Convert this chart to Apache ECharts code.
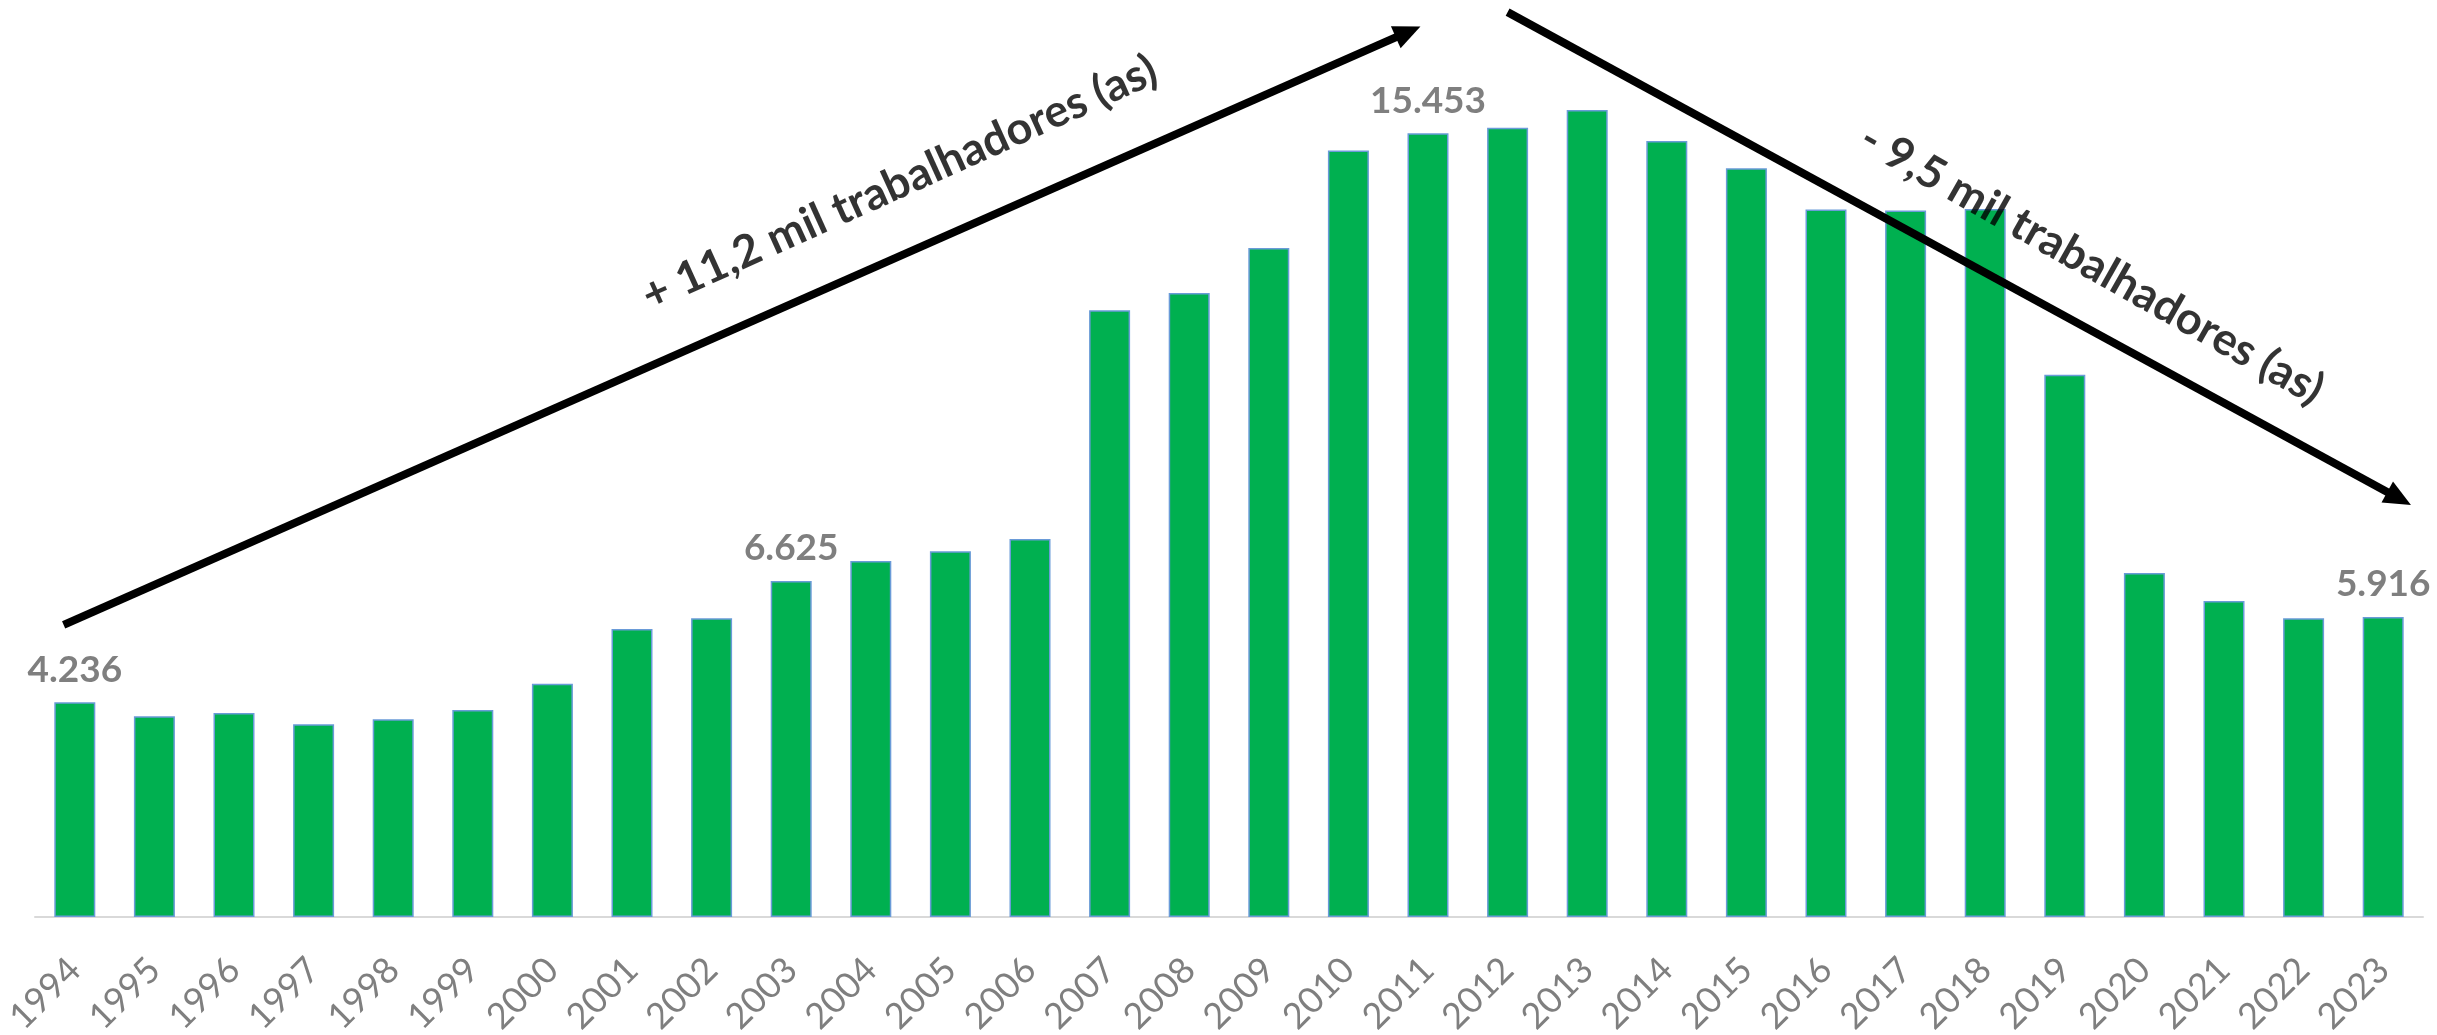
<!DOCTYPE html>
<html>
<head>
<meta charset="utf-8">
<script src="https://cdn.jsdelivr.net/npm/echarts@6/dist/echarts.min.js"></script>
<style>
html,body{margin:0;padding:0;background:#fff;}
#chart{width:2437px;height:1035px;}
</style>
</head>
<body>
<div id="chart"></div>
<script>
// ---- data ----
const years = ['1994','1995','1996','1997','1998','1999','2000','2001','2002','2003','2004','2005','2006','2007','2008','2009','2010','2011','2012','2013','2014','2015','2016','2017','2018','2019','2020','2021','2022','2023'];
const workers = [4236, 3960, 4020, 3800, 3900, 4080, 4600, 5680, 5890, 6625, 7020, 7210, 7450, 11960, 12300, 13190, 15110, 15453, 15560, 15910, 15300, 14760, 13950, 13930, 13960, 10690, 6780, 6230, 5890, 5916];
const labelledYears = ['1994', '2003', '2011', '2023'];
// annotation arrows: [start, end] in (category position, value)
const upArrow = [[-0.14, 5760], [16.75, 17450]];
const downArrow = [[18.0, 17840], [29.2, 8250]];
const upText = '+ 11,2 mil trabalhadores (as)';
const downText = '- 9,5 mil trabalhadores (as)';
const upTextPos = [10.36, 14470];
const downTextPos = [25.34, 12870];

function fmt(v){ return String(v).replace(/\B(?=(\d{3})+(?!\d))/g, '.'); }

const chart = echarts.init(document.getElementById('chart'));
const FONT = 'Lato';
const GRAY = '#7f7f7f';

const barData = workers.map((v, i) => ({
  value: v,
  label: { show: labelledYears.indexOf(years[i]) >= 0 }
}));

function arrowLine(a){
  return [{ coord: a[0], symbol: 'none' }, { coord: a[1], symbol: 'triangle' }];
}

chart.setOption({
  animation: false,
  backgroundColor: '#ffffff',
  grid: { left: 35, right: 14, top: 4, bottom: 118, containLabel: false, outerBoundsMode: 'none' },
  xAxis: [{
    type: 'category',
    data: years,
    axisLine: { show: true, lineStyle: { color: '#d9d9d9', width: 2 } },
    axisTick: { show: false },
    axisLabel: {
      rotate: 45, margin: 47, color: GRAY, fontFamily: FONT, fontSize: 36, interval: 0
    }
  }, {
    type: 'value', min: -0.5, max: 29.5, show: false, splitLine: { show: false }
  }],
  yAxis: { type: 'value', min: 0, max: 18000, show: false, splitLine: { show: false } },
  series: [{
    type: 'bar',
    data: barData,
    barWidth: 41,
    itemStyle: { color: '#00b050', borderColor: '#6a9bd8', borderWidth: 1.5 },
    label: {
      position: 'top', distance: 14, color: GRAY, fontFamily: FONT, fontWeight: 'bold', fontSize: 37,
      formatter: p => fmt(p.value)
    },
    z: 2
  }, {
    type: 'scatter',
    xAxisIndex: 1, yAxisIndex: 0,
    symbolSize: 0,
    silent: true,
    label: { show: true, position: 'inside', color: '#000', fontFamily: FONT, fontWeight: 'bold', fontSize: 45 },
    data: [
      { value: upTextPos, label: { rotate: 24.3, formatter: upText } },
      { value: downTextPos, label: { rotate: -29.5, formatter: downText } }
    ],
    markLine: {
      silent: true,
      symbolSize: [24, 27],
      label: { show: false },
      lineStyle: { color: '#000', width: 8, type: 'solid', opacity: 1 },
      emphasis: { disabled: true },
      data: [arrowLine(upArrow), arrowLine(downArrow)]
    },
    z: 6
  }]
});
</script>
</body>
</html>
